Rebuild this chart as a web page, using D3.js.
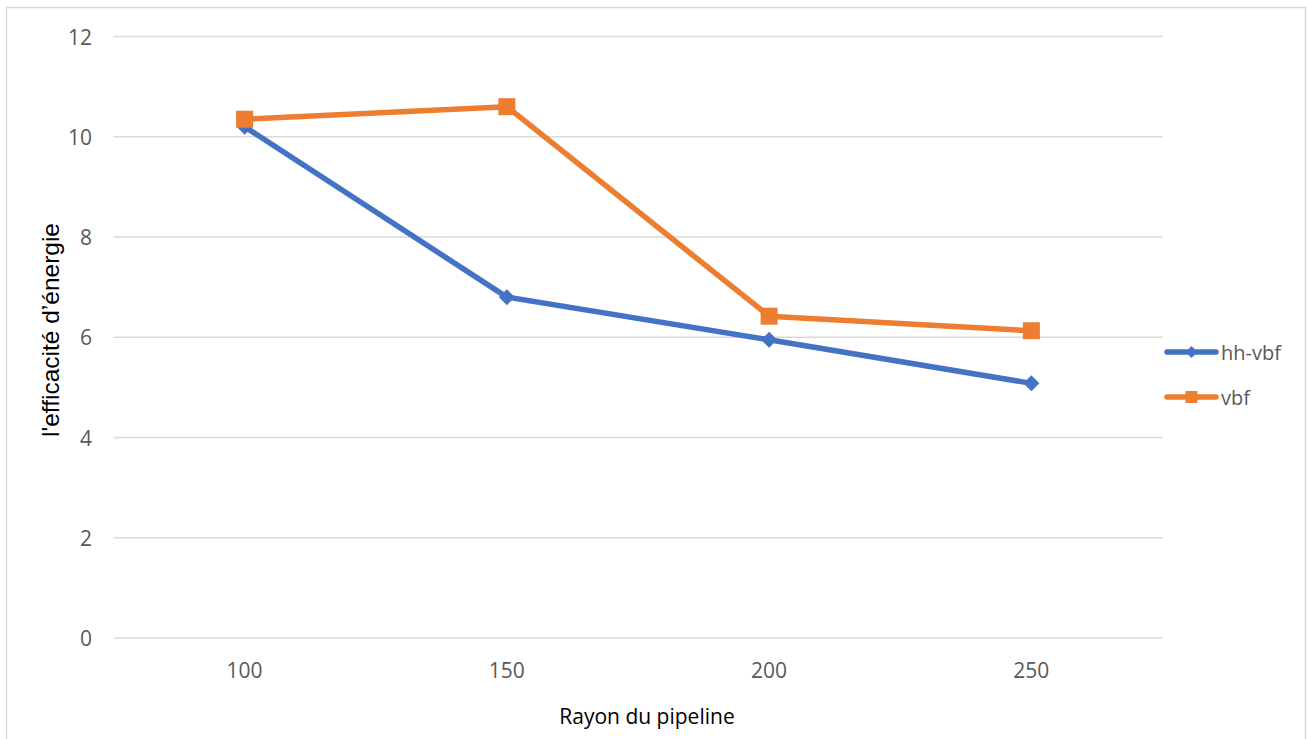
<!DOCTYPE html>
<html>
<head>
<meta charset="utf-8">
<script src="https://cdn.jsdelivr.net/npm/d3@7"></script>
<style>
  body { margin: 0; background: #fff; }
  svg { display: block; font-family: "Open Sans", Lato, sans-serif; }
</style>
</head>
<body>
<svg id="chart" width="1307" height="739"></svg>
<script>
// data
const categories = ["100", "150", "200", "250"];
const hhVbf = [10.2, 6.8, 5.95, 5.08];
const vbf = [10.35, 10.6, 6.42, 6.13];
const yTicks = [0, 2, 4, 6, 8, 10, 12];

const series = [
  { name: "hh-vbf", values: hhVbf, color: "#4472C4", marker: "diamond" },
  { name: "vbf", values: vbf, color: "#ED7D31", marker: "square" }
];

const svg = d3.select("#chart");

// outer chart frame
svg.append("rect")
  .attr("x", 6.5).attr("y", 7.5)
  .attr("width", 1299).attr("height", 740)
  .attr("fill", "#fff")
  .attr("stroke", "#d9d9d9")
  .attr("stroke-width", 1.5);

const x = d3.scaleBand().domain(categories).range([113.5, 1162.5]);
const y = d3.scaleLinear().domain([0, 12]).range([638, 36.5]);

// gridlines
svg.append("g")
  .selectAll("line")
  .data(yTicks)
  .join("line")
  .attr("x1", x.range()[0]).attr("x2", x.range()[1])
  .attr("y1", d => y(d)).attr("y2", d => y(d))
  .attr("stroke", "#d9d9d9")
  .attr("stroke-width", 1.3);

// y tick labels
svg.append("g")
  .selectAll("text")
  .data(yTicks)
  .join("text")
  .attr("x", 92)
  .attr("y", d => y(d))
  .attr("text-anchor", "end")
  .attr("dominant-baseline", "central")
  .attr("font-size", 21)
  .attr("fill", "#595959")
  .text(d => d);

// x tick labels
svg.append("g")
  .selectAll("text")
  .data(categories)
  .join("text")
  .attr("x", d => x(d) + x.bandwidth() / 2)
  .attr("y", 670)
  .attr("text-anchor", "middle")
  .attr("dominant-baseline", "central")
  .attr("font-size", 21)
  .attr("fill", "#595959")
  .text(d => d);

// axis titles
svg.append("text")
  .attr("x", 647).attr("y", 716)
  .attr("text-anchor", "middle")
  .attr("dominant-baseline", "central")
  .attr("font-size", 21)
  .attr("fill", "#000")
  .text("Rayon du pipeline");

svg.append("text")
  .attr("transform", "translate(50,330) rotate(-90)")
  .attr("text-anchor", "middle")
  .attr("dominant-baseline", "central")
  .attr("font-family", "'Liberation Sans', Arial, sans-serif")
  .attr("font-size", 24.5)
  .attr("fill", "#000")
  .text("l'efficacité d’énergie");

const line = d3.line()
  .x((d, i) => x(categories[i]) + x.bandwidth() / 2)
  .y(d => y(d));

const markerPath = (type) => type === "square"
  ? "M-8.5,-8.5H8.5V8.5H-8.5Z"
  : "M0,-8L8,0L0,8L-8,0Z";

// hh-vbf first, vbf on top
series.forEach(s => {
  const g = svg.append("g");
  g.append("path")
    .datum(s.values)
    .attr("d", line)
    .attr("fill", "none")
    .attr("stroke", s.color)
    .attr("stroke-width", 5.5)
    .attr("stroke-linejoin", "round")
    .attr("stroke-linecap", "round");
  g.selectAll("path.m")
    .data(s.values)
    .join("path")
    .attr("class", "m")
    .attr("transform", (d, i) => `translate(${x(categories[i]) + x.bandwidth() / 2},${y(d)})`)
    .attr("d", markerPath(s.marker))
    .attr("fill", s.color);
});

// legend
const legend = svg.append("g")
  .selectAll("g")
  .data(series)
  .join("g")
  .attr("transform", (d, i) => `translate(1165,${352 + i * 45})`);

legend.append("line")
  .attr("x1", 2).attr("x2", 51)
  .attr("stroke", d => d.color)
  .attr("stroke-width", 5.5)
  .attr("stroke-linecap", "round");

legend.append("path")
  .attr("transform", "translate(26.5,0)")
  .attr("d", d => d.marker === "square" ? "M-6,-6H6V6H-6Z" : "M0,-6L6,0L0,6L-6,0Z")
  .attr("fill", d => d.color);

legend.append("text")
  .attr("x", 56)
  .attr("dominant-baseline", "central")
  .attr("font-size", 20)
  .attr("fill", "#595959")
  .text(d => d.name);
</script>
</body>
</html>
